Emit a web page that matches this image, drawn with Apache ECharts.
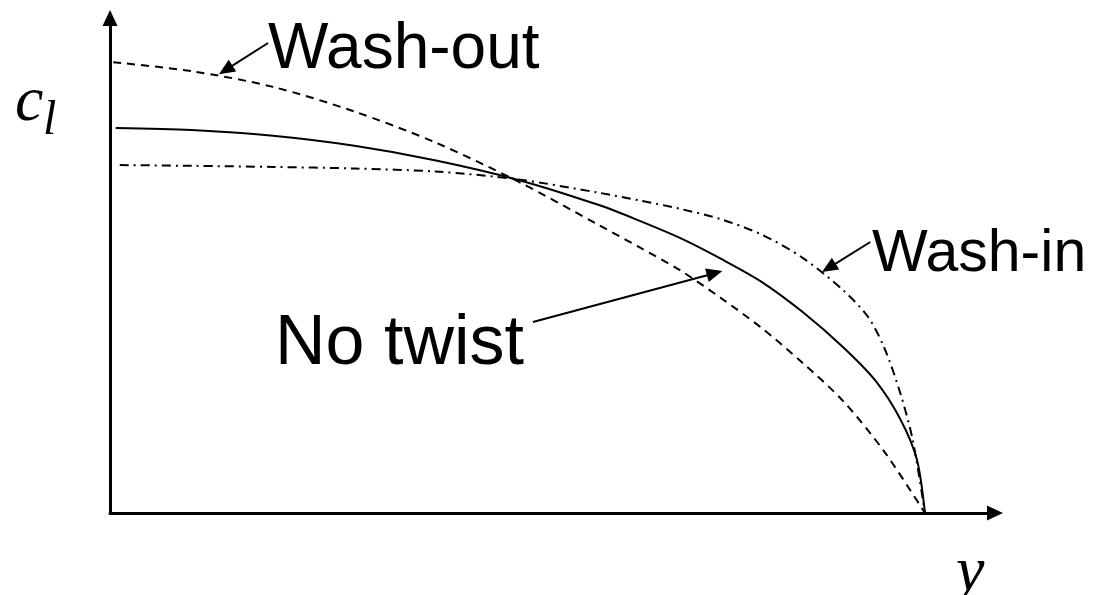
<!DOCTYPE html>
<html>
<head>
<meta charset="utf-8">
<script src="https://cdn.jsdelivr.net/npm/echarts@6/dist/echarts.min.js"></script>
<style>
html, body { margin: 0; padding: 0; background: #fff; }
#chart { width: 1104px; height: 595px; }
</style>
</head>
<body>
<div id="chart"></div>
<script>
// spanwise station y (fraction of semi-span) and section lift coefficient c_l
// (relative to no-twist root value)
const noTwistSpan = [0.007, 0.1, 0.2, 0.3, 0.4, 0.5, 0.6, 0.65, 0.7, 0.75, 0.8, 0.85, 0.9, 0.94, 0.97, 0.99, 1.0];
const noTwistCl   = [1.0, 0.995, 0.98, 0.954, 0.916, 0.866, 0.80, 0.759, 0.714, 0.66, 0.60, 0.522, 0.43, 0.342, 0.243, 0.14, 0.0];

const washOutSpan = [0.004, 0.1, 0.2, 0.3, 0.4, 0.5, 0.6, 0.65, 0.7, 0.75, 0.8, 0.85, 0.9, 0.95, 1.0];
const washOutCl   = [1.171, 1.148, 1.107, 1.043, 0.962, 0.862, 0.748, 0.69, 0.63, 0.558, 0.48, 0.39, 0.29, 0.16, 0.0];

const washInSpan = [0.012, 0.1, 0.2, 0.3, 0.4, 0.5, 0.6, 0.65, 0.7, 0.75, 0.8, 0.85, 0.9, 0.93, 0.95, 0.97, 0.985, 1.0];
const washInCl   = [0.904, 0.902, 0.899, 0.895, 0.887, 0.867, 0.832, 0.812, 0.79, 0.763, 0.723, 0.663, 0.578, 0.51, 0.43, 0.31, 0.19, 0.0];

// annotation arrows: [fromSpan, fromCl, toSpan, toCl]
const washOutArrow = [0.194, 1.221, 0.142, 1.151];
const noTwistArrow = [0.519, 0.496, 0.742, 0.623];
const washInArrow  = [0.933, 0.704, 0.882, 0.637];

const pairs = (xs, ys) => xs.map((x, i) => [x, ys[i]]);
const arrow = a => [{ coord: [a[0], a[1]] }, { coord: [a[2], a[3]] }];

const chart = echarts.init(document.getElementById('chart'));

const axisStyle = {
    show: true,
    onZero: true,
    symbol: ['none', 'triangle'],
    symbolSize: [15, 16],
    lineStyle: { color: '#000', width: 3 }
};

const sans = '"Liberation Sans", Arial';
const serif = '"Liberation Serif", "Times New Roman"';

const option = {
    backgroundColor: '#fff',
    animation: false,
    grid: { left: 110, right: 109, top: 18, bottom: 82 },
    xAxis: {
        type: 'value',
        min: 0,
        max: 1.086,
        axisLine: axisStyle,
        axisTick: { show: false },
        axisLabel: { show: false },
        splitLine: { show: false }
    },
    yAxis: {
        type: 'value',
        min: 0,
        max: 1.286,
        axisLine: axisStyle,
        axisTick: { show: false },
        axisLabel: { show: false },
        splitLine: { show: false }
    },
    series: [
        {
            name: 'No twist',
            type: 'line',
            data: pairs(noTwistSpan, noTwistCl),
            smooth: 0.3,
            showSymbol: false,
            lineStyle: { color: '#000', width: 2, type: 'solid' },
            markLine: {
                silent: true,
                symbol: ['none', 'triangle'],
                symbolSize: [14, 16],
                label: { show: false },
                lineStyle: { color: '#000', width: 2, type: 'solid' },
                data: [arrow(washOutArrow), arrow(noTwistArrow), arrow(washInArrow)]
            }
        },
        {
            name: 'Wash-out',
            type: 'line',
            data: pairs(washOutSpan, washOutCl),
            smooth: 0.3,
            showSymbol: false,
            lineStyle: { color: '#000', width: 2, type: [8, 6] }
        },
        {
            name: 'Wash-in',
            type: 'line',
            data: pairs(washInSpan, washInCl),
            smooth: 0.3,
            showSymbol: false,
            lineStyle: { color: '#000', width: 2, type: [9, 5, 2, 5] }
        }
    ],
    graphic: [
        { type: 'text', left: 268, top: 18, style: { text: 'Wash-out', font: '64px ' + sans, fill: '#000' } },
        { type: 'text', left: 872, top: 225, style: { text: 'Wash-in', font: '59px ' + sans, fill: '#000' } },
        { type: 'text', left: 275, top: 310, style: { text: 'No twist', font: '70px ' + sans, fill: '#000' } },
        { type: 'text', left: 15, top: 71, style: { text: 'c', font: 'italic 64px ' + serif, fill: '#000' } },
        { type: 'text', left: 43, top: 97, style: { text: 'l', font: 'italic 48px ' + serif, fill: '#000' } },
        { type: 'text', left: 956, top: 541, style: { text: 'y', font: 'italic 64px ' + serif, fill: '#000' } }
    ]
};

chart.setOption(option);
</script>
</body>
</html>
